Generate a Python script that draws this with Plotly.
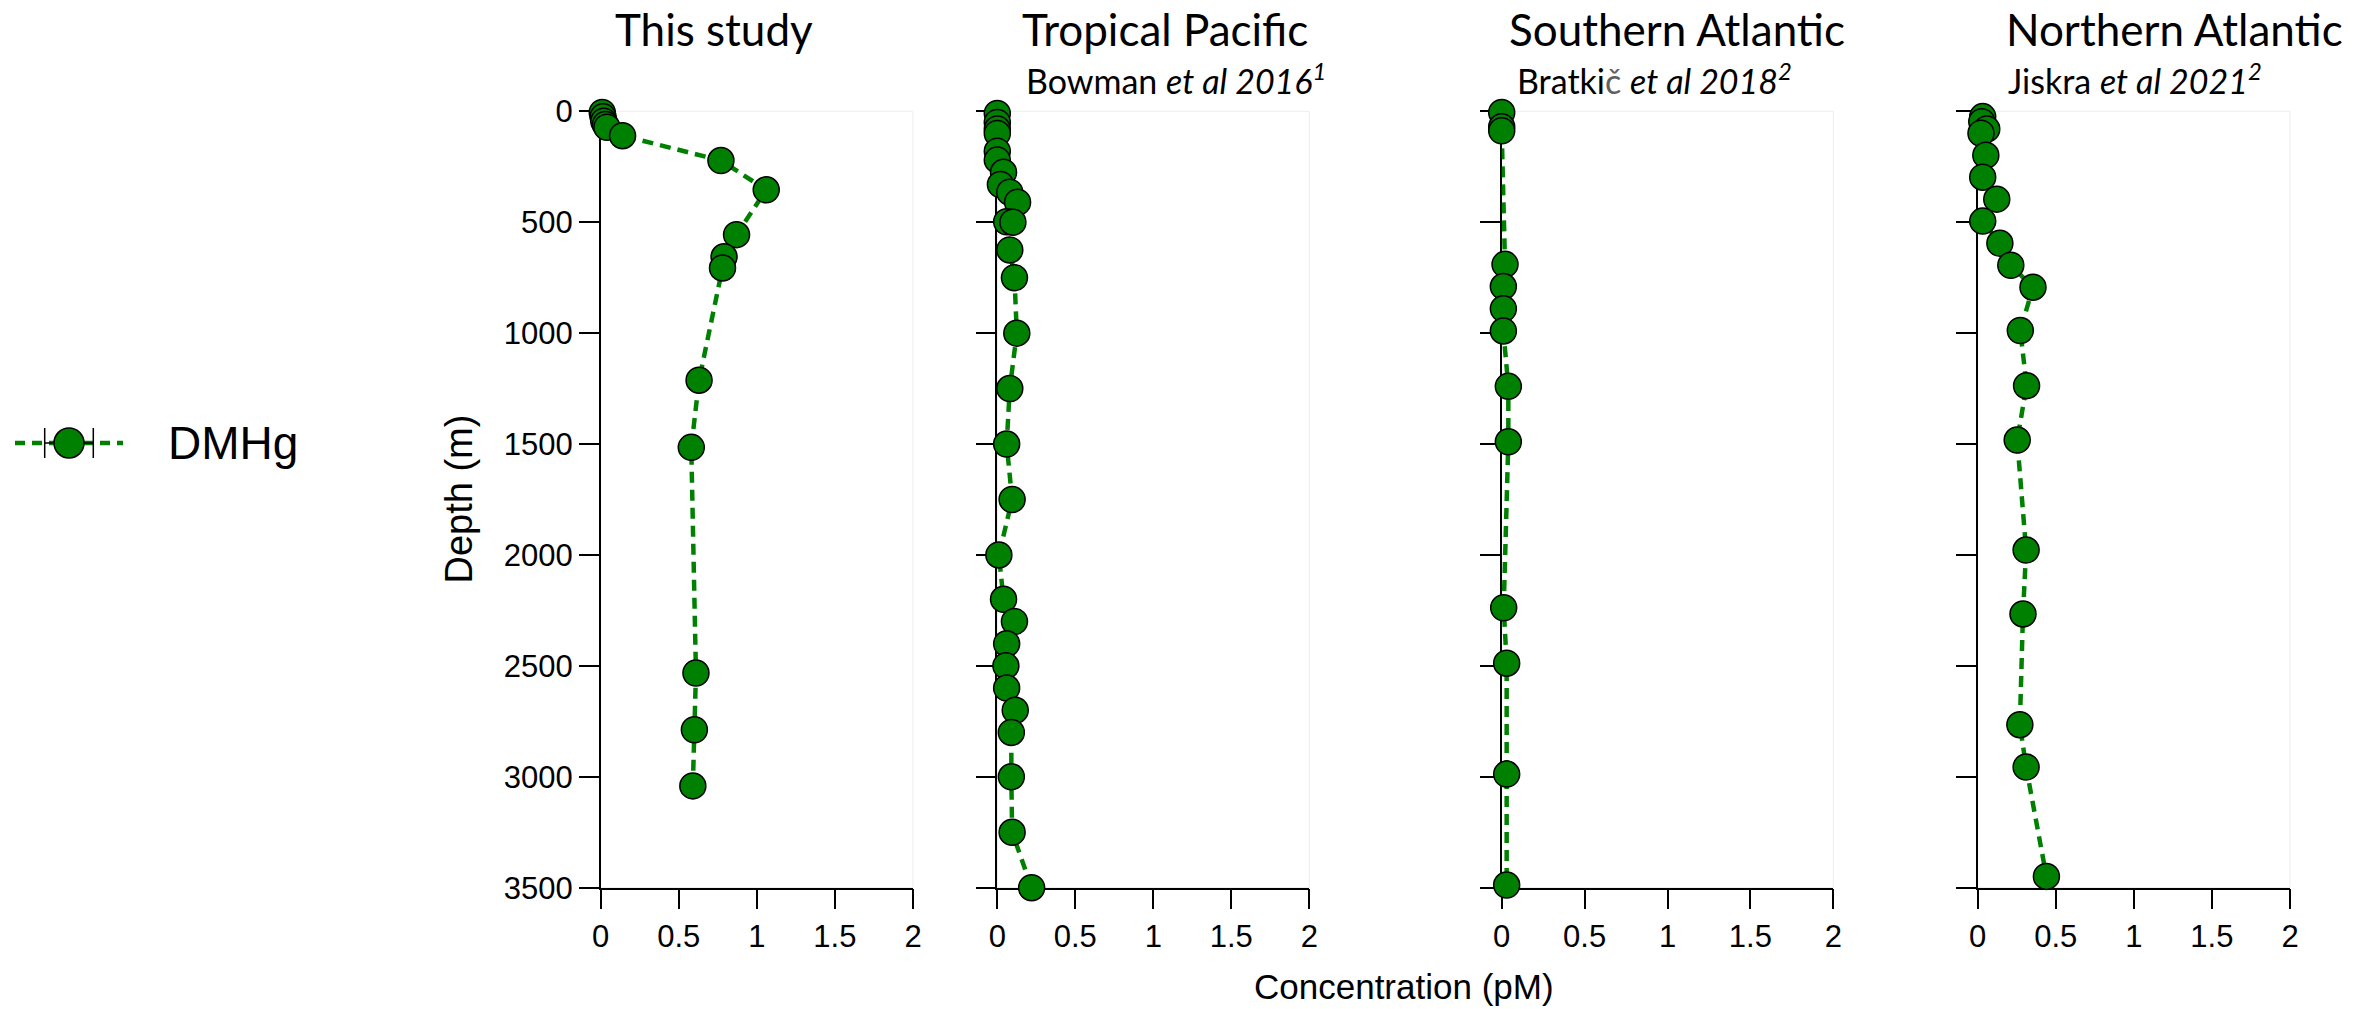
import plotly.graph_objects as go

# ---------------- data ----------------
this_depth = [5, 25, 45, 60, 72, 110, 222, 354, 556, 656, 706, 1212, 1515, 2532, 2788, 3041]
this_conc = [0.01, 0.015, 0.02, 0.03, 0.04, 0.14, 0.77, 1.06, 0.87, 0.79, 0.78, 0.63, 0.58, 0.61, 0.60, 0.59]

pac_depth = [10, 50, 80, 100, 180, 220, 275, 330, 365, 410, 498, 500, 625, 750, 1000, 1250, 1500,
             1750, 2000, 2200, 2300, 2400, 2500, 2600, 2700, 2800, 3000, 3250, 3500]
pac_conc = [0.0, 0.0, 0.0, 0.0, 0.0, 0.0, 0.04, 0.02, 0.08, 0.13, 0.06, 0.10, 0.08, 0.11, 0.125,
            0.08, 0.06, 0.095, 0.01, 0.04, 0.11, 0.06, 0.055, 0.06, 0.115, 0.09, 0.09, 0.095, 0.22]

satl_depth = [5, 70, 88, 690, 790, 890, 990, 1240, 1490, 2238, 2488, 2988, 3488]
satl_conc = [0.0, 0.0, 0.0, 0.02, 0.01, 0.01, 0.01, 0.04, 0.04, 0.012, 0.03, 0.03, 0.03]

natl_depth = [24, 47, 80, 99, 198, 297, 396, 495, 595, 694, 793, 988, 1237, 1482, 1978, 2266,
              2765, 2956, 3449]
natl_conc = [0.032, 0.026, 0.058, 0.021, 0.052, 0.032, 0.122, 0.032, 0.142, 0.212, 0.354, 0.273,
             0.313, 0.253, 0.31, 0.29, 0.27, 0.31, 0.44]

panel_titles = ["This study", "Tropical Pacific", "Southern Atlantic", "Northern Atlantic"]
panel_subtitles = [None,
                   "Bowman <i>et al 2016<sup>1</sup></i>",
                   "Bratki<span style='color:#606060'>č</span> <i>et al 2018<sup>2</sup></i>",
                   "Jiskra <i>et al 2021<sup>2</sup></i>"]

x_ticks = [0, 0.5, 1, 1.5, 2]
x_ticktext = ["0", "0.5", "1", "1.5", "2"]
y_ticks = [0, 500, 1000, 1500, 2000, 2500, 3000, 3500]
series_name = "DMHg"

# legend glyph (decoration on a hidden axis)
legend_line_x = [-1, 1]
legend_line_y = [0, 0]
legend_pt_x = [0]
legend_pt_y = [0]
legend_err = [0.45]

# ---------------- layout geometry ----------------
# the page body has an 8px margin, so the figure starts at page (8, 8)
OFF = 8
W, H = 2369, 1001
x_domains_px = [(600.7, 913.0), (997.3, 1309.3), (1501.7, 1833.3), (1977.7, 2290.0)]
y_top_px, y_bot_px = 111.3, 887.7
title_center_px = [713.7, 1165.0, 1677.0, 2174.5]
sub_left_px = [None, 1024.0, 1515.0, 2006.0]

GREEN = "#008000"
TICKFONT = dict(family="Liberation Sans, Arial, sans-serif", size=31, color="black")
TITLEFONT = dict(family="Lato, Carlito, sans-serif", size=44, color="black")
SUBFONT = dict(family="Lato, Carlito, sans-serif", size=34, color="black")

def px2x(p):
    return (p - OFF) / W

def px2y(p):
    return 1 - (p - OFF) / H

fig = go.Figure()

datasets = [(this_conc, this_depth), (pac_conc, pac_depth), (satl_conc, satl_depth), (natl_conc, natl_depth)]
for i, (xs, ys) in enumerate(datasets):
    n = "" if i == 0 else str(i + 1)
    fig.add_trace(go.Scatter(
        x=xs, y=ys, mode="lines+markers", name=series_name, showlegend=False,
        xaxis="x" + n, yaxis="y" + n, cliponaxis=False,
        line=dict(color=GREEN, width=4.5, dash="11px,7px"),
        marker=dict(size=26, color=GREEN, line=dict(color="black", width=1.5)),
    ))
    d0, d1 = x_domains_px[i]
    xa = dict(domain=[px2x(d0), px2x(d1)], range=[0, 2], tickvals=x_ticks, ticktext=x_ticktext,
              ticks="outside", ticklen=20, tickwidth=1.5, tickcolor="black",
              showline=True, linecolor="black", linewidth=1.5, showgrid=False, zeroline=False,
              tickfont=TICKFONT, anchor="y" + n, layer="below traces", fixedrange=True,
              automargin=False)
    ya = dict(domain=[px2y(y_bot_px), px2y(y_top_px)], range=[3500, 0], tickvals=y_ticks,
              ticks="outside", ticklen=20, tickwidth=1.5, tickcolor="black",
              showline=True, linecolor="black", linewidth=1.5, showgrid=False, zeroline=False,
              tickfont=TICKFONT, showticklabels=(i == 0), anchor="x" + n,
              layer="below traces", fixedrange=True, automargin=False)
    fig.update_layout(**{"xaxis" + n: xa, "yaxis" + n: ya})
    # faint plot-area frame
    fig.add_shape(type="rect", xref="x" + n + " domain", yref="y" + n + " domain",
                  x0=0, x1=1, y0=0, y1=1, line=dict(color="#ededed", width=1), layer="below")

# legend glyph on hidden axis
fig.add_trace(go.Scatter(x=legend_line_x, y=legend_line_y, mode="lines", showlegend=False,
                         xaxis="x5", yaxis="y5", cliponaxis=False, hoverinfo="skip",
                         line=dict(color=GREEN, width=4.5, dash="10px,7px")))
fig.add_trace(go.Scatter(x=legend_pt_x, y=legend_pt_y, mode="markers", showlegend=False,
                         xaxis="x5", yaxis="y5", cliponaxis=False, hoverinfo="skip",
                         error_x=dict(type="data", array=legend_err, visible=True, color="black",
                                      thickness=1.5, width=15),
                         marker=dict(size=30, color=GREEN, line=dict(color="black", width=1.5))))
fig.update_layout(
    xaxis5=dict(domain=[px2x(15), px2x(123)], range=[-1, 1], visible=False, anchor="y5", fixedrange=True),
    yaxis5=dict(domain=[px2y(463), px2y(423)], range=[-1, 1], visible=False, anchor="x5", fixedrange=True),
)

annotations = []
annotations.append(dict(text=series_name, x=px2x(166), y=px2y(443), xref="paper", yref="paper",
                        xanchor="left", yanchor="middle", showarrow=False,
                        font=dict(family="Liberation Sans, Arial, sans-serif", size=46, color="black")))
for i in range(4):
    annotations.append(dict(text=panel_titles[i], x=px2x(title_center_px[i]), y=px2y(29),
                            xref="paper", yref="paper", xanchor="center", yanchor="middle",
                            showarrow=False, font=TITLEFONT))
    if panel_subtitles[i]:
        annotations.append(dict(text=panel_subtitles[i], x=px2x(sub_left_px[i]), y=px2y(79),
                                xref="paper", yref="paper", xanchor="left", yanchor="middle",
                                showarrow=False, font=SUBFONT))
annotations.append(dict(text="Depth (m)", x=px2x(459), y=px2y(499.5), xref="paper", yref="paper",
                        xanchor="center", yanchor="middle", textangle=-90, showarrow=False,
                        font=dict(family="Liberation Sans, Arial, sans-serif", size=38, color="black")))
annotations.append(dict(text="Concentration (pM)", x=px2x(1404), y=px2y(986), xref="paper", yref="paper",
                        xanchor="center", yanchor="middle", showarrow=False,
                        font=dict(family="Liberation Sans, Arial, sans-serif", size=35, color="black")))

fig.update_layout(width=W, height=H, margin=dict(l=0, r=0, t=0, b=0, autoexpand=False),
                  paper_bgcolor="white", plot_bgcolor="white", annotations=annotations,
                  showlegend=False)

fig.write_html("out.html")
